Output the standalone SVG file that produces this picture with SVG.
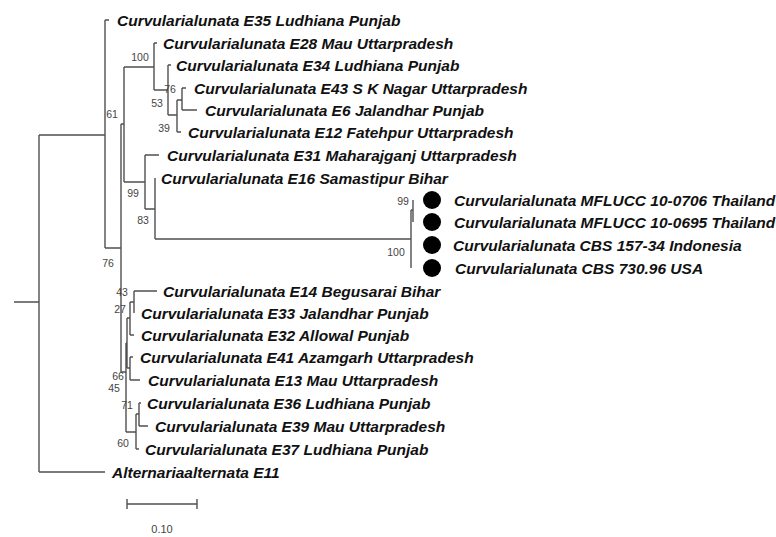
<svg xmlns="http://www.w3.org/2000/svg" width="776" height="537" viewBox="0 0 776 537">
<style>
.br{fill:none;stroke:#505050;stroke-width:1.4}
.tx{font-family:"Liberation Sans",Arial,sans-serif;font-size:15.5px;font-weight:bold;font-style:italic;fill:#111}
.bs{font-family:"Liberation Sans",Arial,sans-serif;font-size:10.5px;fill:#444}
.dot{fill:#000}
</style>
<rect width="776" height="537" fill="#fff"/>
<g id="connectors">
<path class="br" d="M14,302H39 M39,135V472 M39,135H105 M39,472H105 M105,20V248 M105,20H109 M105,248H121 M121,124V372 M121,124H124 M124,67V182 M124,67H154 M154,43V90 M154,43H157 M154,90H168 M168,65V115 M168,65H171 M168,115H177 M177,100V132 M177,132H181 M177,100H182 M182,88V110 M182,88H186 M182,110H197 M124,182H145 M145,155V209 M145,155H159 M145,209H155 M155,178V239 M155,239H411 M411,210V268 M411,210H413 M413,200V222"/>
<path class="br" d="M121,372H126 M126,343V432 M126,343H127 M127,318V368 M127,318H130 M127,368H130 M130,302V335 M130,302H134 M130,335H134 M134,291V313 M134,291H157 M130,357V380 M130,357H133 M130,380H140 M126,432H136 M136,414V449 M136,449H139 M136,414H139 M139,403V426 M139,403H141 M139,426H148"/>
</g>
<g id="leaves">
<g id="n-E35"><text class="tx" x="117" y="26">Curvularialunata E35 Ludhiana Punjab</text></g>
<g id="n-E28"><text class="tx" x="163" y="49">Curvularialunata E28 Mau Uttarpradesh</text></g>
<g id="n-E34"><text class="tx" x="176" y="71">Curvularialunata E34 Ludhiana Punjab</text></g>
<g id="n-E43"><text class="tx" x="194" y="94">Curvularialunata E43 S K Nagar Uttarpradesh</text></g>
<g id="n-E6"><text class="tx" x="205" y="116">Curvularialunata E6 Jalandhar Punjab</text></g>
<g id="n-E12"><text class="tx" x="188" y="138">Curvularialunata E12 Fatehpur Uttarpradesh</text></g>
<g id="n-E31"><text class="tx" x="167" y="161">Curvularialunata E31 Maharajganj Uttarpradesh</text></g>
<g id="n-E16"><text class="tx" x="161" y="184">Curvularialunata E16 Samastipur Bihar</text></g>
<g id="n-M0706"><circle class="dot" cx="432" cy="200" r="9"/><text class="tx" x="454" y="206">Curvularialunata MFLUCC 10-0706 Thailand</text></g>
<g id="n-M0695"><circle class="dot" cx="432" cy="222" r="9"/><text class="tx" x="454" y="228">Curvularialunata MFLUCC 10-0695 Thailand</text></g>
<g id="n-CBS157"><circle class="dot" cx="432" cy="245" r="9"/><text class="tx" x="453" y="251">Curvularialunata CBS 157-34 Indonesia</text></g>
<g id="n-CBS730"><circle class="dot" cx="432" cy="268" r="9"/><text class="tx" x="455" y="274">Curvularialunata CBS 730.96 USA</text></g>
<g id="n-E14"><text class="tx" x="163" y="297">Curvularialunata E14 Begusarai Bihar</text></g>
<g id="n-E33"><text class="tx" x="141" y="319">Curvularialunata E33 Jalandhar Punjab</text></g>
<g id="n-E32"><text class="tx" x="141" y="341">Curvularialunata E32 Allowal Punjab</text></g>
<g id="n-E41"><text class="tx" x="140" y="363">Curvularialunata E41 Azamgarh Uttarpradesh</text></g>
<g id="n-E13"><text class="tx" x="148" y="386">Curvularialunata E13 Mau Uttarpradesh</text></g>
<g id="n-E36"><text class="tx" x="147" y="409">Curvularialunata E36 Ludhiana Punjab</text></g>
<g id="n-E39"><text class="tx" x="155" y="432">Curvularialunata E39 Mau Uttarpradesh</text></g>
<g id="n-E37"><text class="tx" x="145" y="455">Curvularialunata E37 Ludhiana Punjab</text></g>
<g id="n-E11"><text class="tx" x="112" y="478">Alternariaalternata E11</text></g>
</g>
<g id="bootstrap">
<text class="bs" x="140" y="61" text-anchor="middle">100</text>
<text class="bs" x="170" y="93" text-anchor="middle">76</text>
<text class="bs" x="157" y="107" text-anchor="middle">53</text>
<text class="bs" x="164" y="132" text-anchor="middle">39</text>
<text class="bs" x="112" y="118" text-anchor="middle">61</text>
<text class="bs" x="133" y="197" text-anchor="middle">99</text>
<text class="bs" x="143" y="224" text-anchor="middle">83</text>
<text class="bs" x="108" y="267" text-anchor="middle">76</text>
<text class="bs" x="403" y="205" text-anchor="middle">99</text>
<text class="bs" x="396" y="256" text-anchor="middle">100</text>
<text class="bs" x="122" y="296" text-anchor="middle">43</text>
<text class="bs" x="120" y="313" text-anchor="middle">27</text>
<text class="bs" x="118" y="380" text-anchor="middle">66</text>
<text class="bs" x="114" y="392" text-anchor="middle">45</text>
<text class="bs" x="127" y="409" text-anchor="middle">71</text>
<text class="bs" x="123" y="447" text-anchor="middle">60</text>
</g>
<g id="scalebar">
<path class="br" d="M127,504H197 M127,499V509 M197,499V509"/>
<text class="bs" x="162" y="533" text-anchor="middle" style="font-size:11px">0.10</text>
</g>
</svg>
